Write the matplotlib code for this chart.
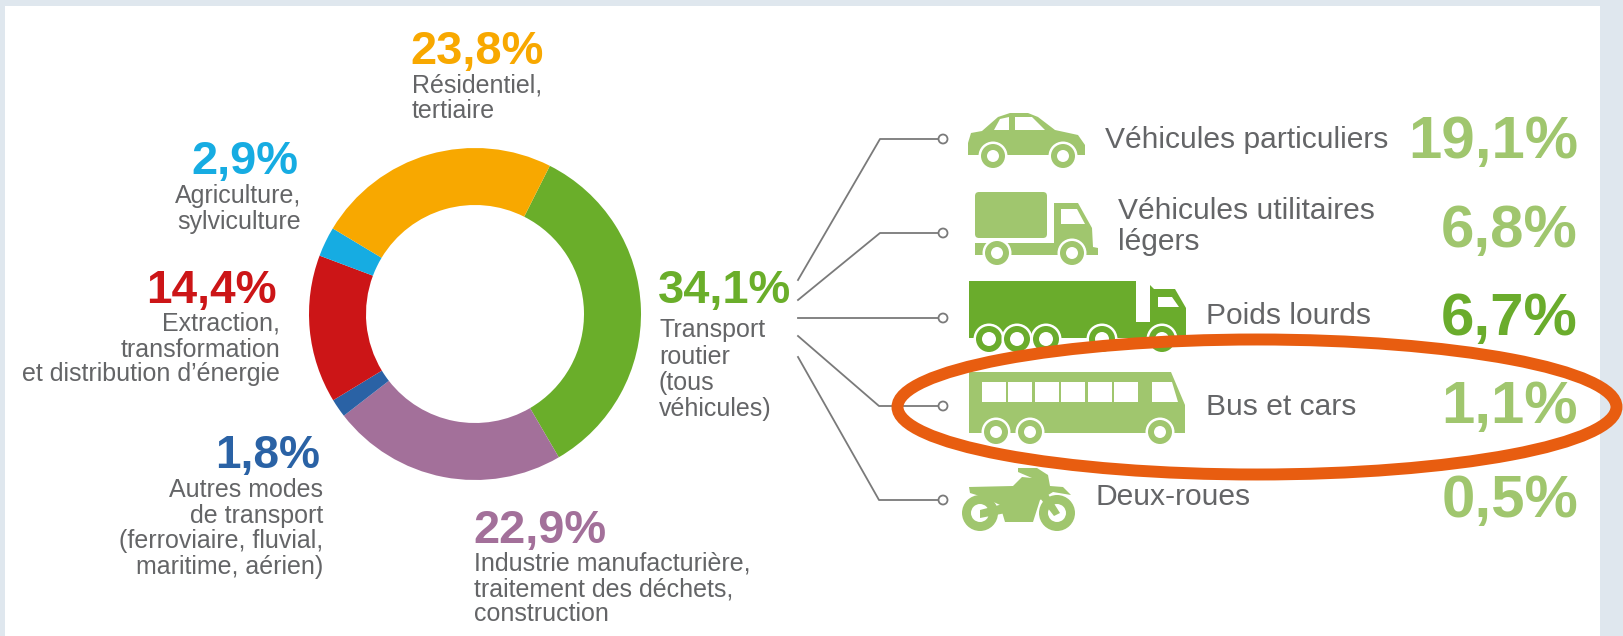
import matplotlib
matplotlib.use("Agg")
import matplotlib.pyplot as plt
from matplotlib.patches import Circle, Ellipse, FancyBboxPatch, Polygon, Rectangle

plt.rcParams['font.family'] = ['Liberation Sans', 'DejaVu Sans']

# donut, clockwise from the top right
sectors = ["Transport routier", "Industrie", "Autres modes", "Extraction", "Agriculture", "Residentiel"]
shares = [34.1, 22.9, 1.8, 14.4, 2.9, 23.8]
sector_colors = ["#6aae2a", "#a3709a", "#2a62a5", "#cc1517", "#16ace2", "#f8a800"]

# road transport breakdown
vehicle_labels = ["Véhicules particuliers", "Véhicules utilitaires\nlégers", "Poids lourds", "Bus et cars", "Deux-roues"]
vehicle_shares = ["19,1%", "6,8%", "6,7%", "1,1%", "0,5%"]

W, H = 1623, 636
LIGHT = "#a0c66e"
DARK = "#6aac2c"
GREY = "#646567"
BG = "#dfe7ee"

fig = plt.figure(figsize=(W / 100, H / 100), dpi=100, facecolor=BG)
ax = fig.add_axes([0, 0, 1, 1])


def Y(y):
    return H - y


def pts(coords):
    return [(x, Y(y)) for x, y in coords]


def poly(coords, color, z=3):
    ax.add_patch(Polygon(pts(coords), closed=True, fc=color, ec="none", zorder=z))


def wheel(x, y, r, hole, color, z=4):
    ax.add_patch(Circle((x, Y(y)), r + 2.5, fc="white", ec="none", zorder=z))
    ax.add_patch(Circle((x, Y(y)), r, fc=color, ec="none", zorder=z))
    ax.add_patch(Circle((x, Y(y)), hole, fc="white", ec="none", zorder=z))


def big(x, y, s, color, ha="left", size=47):
    ax.text(x, Y(y), s, color=color, ha=ha, va="baseline", fontsize=size * 0.72, fontweight="bold", zorder=5)


def small(x, y, s, ha="left", size=25):
    ax.text(x, Y(y), s, color=GREY, ha=ha, va="baseline", fontsize=size * 0.72, zorder=5)


ax.add_patch(Rectangle((5, 0), 1595, H - 6, fc="white", ec="none", zorder=0))

ax.pie(shares, colors=sector_colors, startangle=63.2, counterclock=False,
       center=(475, Y(314)), radius=166, wedgeprops={"width": 57, "linewidth": 0}, frame=True)
ax.set_xlim(0, W)
ax.set_ylim(0, H)
ax.axis("off")

# left side labels
big(410, 64, "23,8%", sector_colors[5])
small(412, 93, "Résidentiel,")
small(412, 118, "tertiaire")

big(298, 174, "2,9%", sector_colors[4], ha="right")
small(301, 203, "Agriculture,", ha="right")
small(301, 229, "sylviculture", ha="right")

big(277, 303, "14,4%", sector_colors[3], ha="right", size=46)
small(280, 331, "Extraction,", ha="right")
small(280, 357, "transformation", ha="right")
small(280, 381, "et distribution d’énergie", ha="right")

big(320, 468, "1,8%", sector_colors[2], ha="right", size=46)
small(323, 497, "Autres modes", ha="right")
small(323, 523, "de transport", ha="right")
small(323, 548, "(ferroviaire, fluvial,", ha="right")
small(323, 574, "maritime, aérien)", ha="right")

big(473, 543, "22,9%", sector_colors[1])
small(474, 571, "Industrie manufacturière,")
small(474, 596, "traitement des déchets,")
small(474, 621, "construction")

big(658, 303, "34,1%", sector_colors[0])
small(659, 337, "Transport")
small(659, 364, "routier")
small(659, 390, "(tous")
small(659, 416, "véhicules)")

# connectors
starts = [(798, 280), (798, 300), (798, 318), (798, 336), (798, 357)]
bends = [(880, 139), (880, 233), (880, 318), (879, 406), (879, 500)]
for s, b in zip(starts, bends):
    ax.plot([s[0], b[0], 938], [Y(s[1]), Y(b[1]), Y(b[1])], color="#7a7a7a", lw=1.3, zorder=2)
    ax.add_patch(Circle((943, Y(b[1])), 4.5, fc="white", ec="#7a7a7a", lw=1.3, zorder=3))

# right side text
small(1105, 148, vehicle_labels[0], size=30)
small(1118, 219, vehicle_labels[1].split("\n")[0], size=30)
small(1118, 250, vehicle_labels[1].split("\n")[1], size=30)
small(1206, 324, vehicle_labels[2], size=30)
small(1206, 415, vehicle_labels[3], size=30)
small(1096, 505, vehicle_labels[4], size=30)

big(1578, 158, vehicle_shares[0], LIGHT, ha="right", size=60)
big(1578, 247, vehicle_shares[1], LIGHT, ha="right", size=60)
big(1578, 335, vehicle_shares[2], DARK, ha="right", size=60)
big(1578, 423, vehicle_shares[3], LIGHT, ha="right", size=60)
big(1578, 517, vehicle_shares[4], LIGHT, ha="right", size=60)

# car
poly([(968, 155), (968, 143), (971, 133), (982, 131), (998, 117), (1010, 113), (1028, 113), (1038, 117),
      (1055, 130), (1078, 135), (1085, 145), (1085, 155)], LIGHT)
poly([(994, 130), (1000, 119), (1009, 117), (1009, 130)], "white")
poly([(1015, 117), (1032, 117), (1045, 130), (1015, 130)], "white")
wheel(993, 156, 12, 6, LIGHT)
wheel(1063, 156, 12, 6, LIGHT)

# van
ax.add_patch(FancyBboxPatch((975, Y(238)), 72, 46, boxstyle="round,pad=0,rounding_size=4",
                            fc=LIGHT, ec="none", zorder=3))
poly([(1054, 203), (1078, 203), (1092, 228), (1093, 247), (1098, 248), (1098, 255), (975, 255), (975, 243),
      (1054, 243)], LIGHT)
poly([(1061, 209), (1077, 209), (1085, 224), (1061, 224)], "white")
wheel(997, 253, 12, 6, LIGHT)
wheel(1072, 253, 12, 6, LIGHT)

# lorry
poly([(969, 281), (1136, 281), (1136, 322), (1150, 322), (1150, 285), (1154, 289), (1175, 289), (1186, 308),
      (1186, 335), (1180, 338), (969, 338)], DARK)
poly([(1158, 297), (1172, 297), (1179, 307), (1158, 307)], "white")
for wx in [989, 1017, 1046, 1102, 1162]:
    wheel(wx, 339, 13, 7, DARK)

# bus
poly([(969, 433), (969, 372), (1171, 372), (1185, 405), (1185, 433)], LIGHT)
for wx in [982, 1008, 1035, 1061, 1088, 1114]:
    ax.add_patch(Rectangle((wx, Y(402)), 24, 20, fc="white", ec="none", zorder=4))
poly([(1152, 382), (1172, 382), (1178, 402), (1152, 402)], "white", z=4)
wheel(996, 432, 12, 6, LIGHT)
wheel(1030, 432, 12, 6, LIGHT)
wheel(1160, 432, 12, 6, LIGHT)

# motorbike
wheel(980, 513, 18, 9, LIGHT, z=3)
wheel(1057, 513, 18, 9, LIGHT, z=3)
poly([(969, 487), (1013, 486), (1022, 477), (1032, 478), (1018, 472), (1018, 468), (1037, 468), (1048, 475),
      (1050, 486), (1063, 487), (1071, 495), (1053, 492), (1040, 500), (1033, 522), (1005, 522), (1000, 505),
      (983, 497), (970, 493)], LIGHT, z=4)
poly([(980, 510), (1003, 504), (1006, 513), (980, 518)], LIGHT, z=4)
poly([(1040, 498), (1048, 494), (1060, 513), (1054, 516)], LIGHT, z=4)

# highlight
ax.add_patch(Ellipse((1257, Y(407)), 719, 135, fc="none", ec="#e85d10", lw=8.6, zorder=6))

fig.savefig("out.png", dpi=100, facecolor=BG)
